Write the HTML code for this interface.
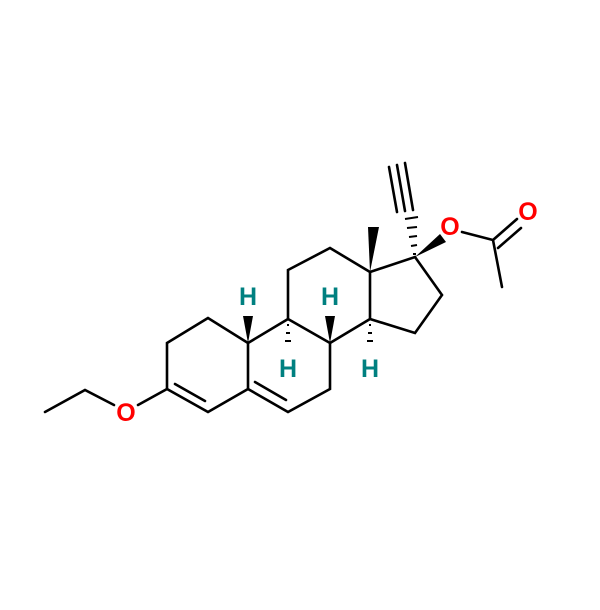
<!DOCTYPE html>
<html><head><meta charset="utf-8"><style>html,body{margin:0;padding:0;background:#fff}</style></head>
<body>
<svg width="600" height="605" viewBox="0 0 600 605" xmlns="http://www.w3.org/2000/svg">
<g stroke="#000" stroke-width="2.6" fill="none" stroke-linecap="round">
<path d="M208,318 L167,343 L167,389 L208,412 L248,389 L248,343 Z"/>
<line x1="175" y1="384" x2="205" y2="401"/>
<path d="M248,389 L288,412 L330,389 L330,343 L288,319 L248,343"/>
<line x1="255" y1="382" x2="286" y2="400"/>
<path d="M288,319 L288,270 L330,248 L370,272 L370,319 L330,343"/>
<path d="M370,272 L415,257 L442,295 L415,333 L370,319"/>
<path d="M167,389 L138,405"/>
<path d="M114,405 L85,390 L45,412"/>
<path d="M462,232 L493,240 L502,287"/>
<path d="M493,240 L517,219"/>
<path d="M498,248 L521,228"/>
<line x1="389" y1="167" x2="397" y2="212"/>
<line x1="397" y1="165" x2="405" y2="211"/>
<line x1="405" y1="163" x2="413" y2="210"/>
</g>
<g fill="#000">
<polygon points="368,227 379,227 370,272"/>
<polygon points="415,257 440,234 446,242"/>
<polygon points="243,316 253,316 248,343"/>
<polygon points="325,316 335,316 330,343"/>
</g>
<g stroke="#000" stroke-width="2">
<line x1="413" y1="254" x2="416" y2="254"/>
<line x1="411" y1="246" x2="417" y2="245"/>
<line x1="409" y1="237" x2="417" y2="236"/>
<line x1="407" y1="228" x2="417" y2="227"/>
<line x1="405" y1="219" x2="418" y2="217"/>
<line x1="287" y1="325" x2="289" y2="325"/>
<line x1="286" y1="333" x2="290" y2="333"/>
<line x1="285" y1="341" x2="291" y2="341"/>
<line x1="369" y1="325" x2="371" y2="325"/>
<line x1="368" y1="333" x2="372" y2="333"/>
<line x1="367" y1="341" x2="373" y2="341"/>
</g>
<g font-family="Liberation Sans, sans-serif" font-weight="bold" font-size="25" text-anchor="middle">
<text x="126" y="421" fill="#f00">O</text>
<text x="450" y="235" fill="#f00">O</text>
<text x="528" y="220" fill="#f00">O</text>
<text x="248" y="305" fill="#008080">H</text>
<text x="330" y="305" fill="#008080">H</text>
<text x="288" y="377" fill="#008080">H</text>
<text x="370" y="377" fill="#008080">H</text>
</g>
</svg>
</body></html>
